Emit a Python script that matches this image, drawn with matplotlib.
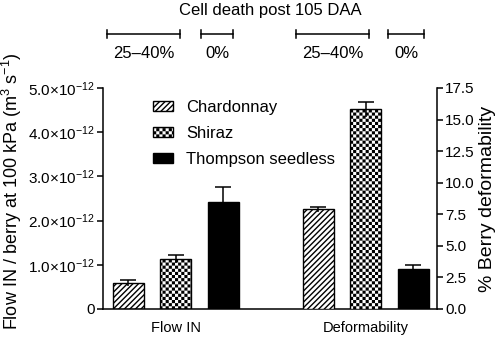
import warnings
import numpy as np
import matplotlib
matplotlib.use('Agg')
import matplotlib.pyplot as plt
from matplotlib import hatch as mhatch
from matplotlib.path import Path
from matplotlib.ticker import FuncFormatter, MultipleLocator
from matplotlib.transforms import blended_transform_factory

warnings.filterwarnings('ignore')

# data
cultivars = ['Chardonnay', 'Shiraz', 'Thompson seedless']
measures = ['Flow IN', 'Deformability']
flow_in = [0.58e-12, 1.13e-12, 2.41e-12]        # m3 s-1 per berry
flow_in_err = [0.07e-12, 0.10e-12, 0.36e-12]
deform = [7.9, 15.8, 3.2]                       # % berry deformability
deform_err = [0.2, 0.6, 0.3]
cell_death = ['25–40%', '0%', '25–40%', '0%']
title = 'Cell death post 105 DAA'

plt.rcParams['font.family'] = ['Liberation Sans', 'DejaVu Sans']
plt.rcParams['mathtext.fontset'] = 'custom'
plt.rcParams['mathtext.rm'] = 'Liberation Sans'
plt.rcParams['mathtext.it'] = 'Liberation Sans:italic'
plt.rcParams['mathtext.bf'] = 'Liberation Sans:bold'


class CheckerHatch(mhatch.HatchPatternBase):
    """chequerboard fill, used when the hatch string contains 'c'"""
    def __init__(self, hatch, density):
        self.n = 32 if 'c' in hatch else 0
        self.num_vertices = (self.n * self.n // 2) * 5

    def set_vertices_and_codes(self, vertices, codes):
        cell = 1.0 / self.n
        inset = 0.007
        sq = np.array([[0, 0], [1, 0], [1, 1], [0, 1], [0, 0]]) * (cell - 2 * inset)
        parts = [sq + [i * cell + inset, j * cell + inset]
                 for i in range(self.n) for j in range(self.n) if (i + j) % 2 == 0]
        vertices[:] = np.concatenate(parts)
        codes[:] = np.tile([Path.MOVETO, Path.LINETO, Path.LINETO,
                            Path.LINETO, Path.CLOSEPOLY], len(parts))


mhatch._hatch_types.append(CheckerHatch)

hatches = ['//////', 'c', None]
faces = ['white', 'white', 'black']
width = 0.65

fig = plt.figure(figsize=(5, 3.39), dpi=100)
ax = fig.add_axes([0.206, 0.0885, 0.668, 0.652])
ax2 = ax.twinx()

x = np.arange(len(cultivars))
for i, name in enumerate(cultivars):
    ax.bar(x[i], flow_in[i], width, color=faces[i], edgecolor='black',
           hatch=hatches[i], lw=1, label=name, zorder=2)
    ax2.bar(x[i] + 4, deform[i], width, color=faces[i], edgecolor='black',
            hatch=hatches[i], lw=1, zorder=2)

for a, pos, vals, errs in [(ax, x, flow_in, flow_in_err), (ax2, x + 4, deform, deform_err)]:
    _, caps, _ = a.errorbar(pos, vals, yerr=errs, fmt='none', ecolor='black',
                            elinewidth=1.1, capsize=6, capthick=1.1, zorder=3)
    caps[0].set_visible(False)

ax.set_xlim(-0.53, 6.5)
ax.set_ylim(0, 5e-12)
ax2.set_ylim(0, 17.5)
ax.yaxis.set_major_locator(MultipleLocator(1e-12))
ax2.yaxis.set_major_locator(MultipleLocator(2.5))


def sci_label(v, _):
    if abs(v) < 1e-20:
        return '0'
    return f'{v / 1e-12:.1f}×10$^{{-12}}$'


ax.yaxis.set_major_formatter(FuncFormatter(sci_label))
ax2.yaxis.set_major_formatter(FuncFormatter(lambda v, _: f'{v:.1f}'))

for s in ['top', 'right']:
    ax.spines[s].set_visible(False)
for s in ['top', 'left', 'bottom']:
    ax2.spines[s].set_visible(False)
for a in (ax, ax2):
    for s in a.spines.values():
        s.set_linewidth(1.1)
    a.tick_params(axis='y', direction='out', length=4, width=1.1, labelsize=11, pad=2)

ax.set_xticks([1, 5])
ax.set_xticklabels(measures)
ax.tick_params(axis='x', length=0, pad=9, labelsize=10.5)

ax.set_ylabel('Flow IN / berry at 100 kPa (m$^{3}$ s$^{-1}$)', fontsize=13)
ax.yaxis.set_label_coords(-0.238, 0.535)
ax2.set_ylabel('% Berry deformability', fontsize=14, labelpad=3)

ax.legend(loc='upper left', bbox_to_anchor=(153 / 500, 1 - 100 / 339),
          bbox_transform=fig.transFigure, frameon=False, fontsize=12,
          borderpad=0, borderaxespad=0, handlelength=1.2, handleheight=0.6,
          handletextpad=0.8, labelspacing=0.66)

# cell death brackets above the bars
trans = blended_transform_factory(ax.transData, ax.transAxes)
spans = [(-0.44, 1.09), (1.54, 2.21), (3.54, 5.07), (5.47, 6.23)]
y_br, tick = 1.244, 0.018
for (x0, x1), lab in zip(spans, cell_death):
    ax.plot([x0, x1], [y_br, y_br], color='black', lw=1.1, transform=trans, clip_on=False)
    for xe in (x0, x1):
        ax.plot([xe, xe], [y_br - tick, y_br + tick], color='black', lw=1.1,
                transform=trans, clip_on=False)
    ax.text((x0 + x1) / 2, 1.158, lab, transform=trans, ha='center', va='center', fontsize=12)

fig.text(270 / 500, 1 - 11 / 339, title, ha='center', va='center', fontsize=12)

fig.savefig('out.png', dpi=100)
